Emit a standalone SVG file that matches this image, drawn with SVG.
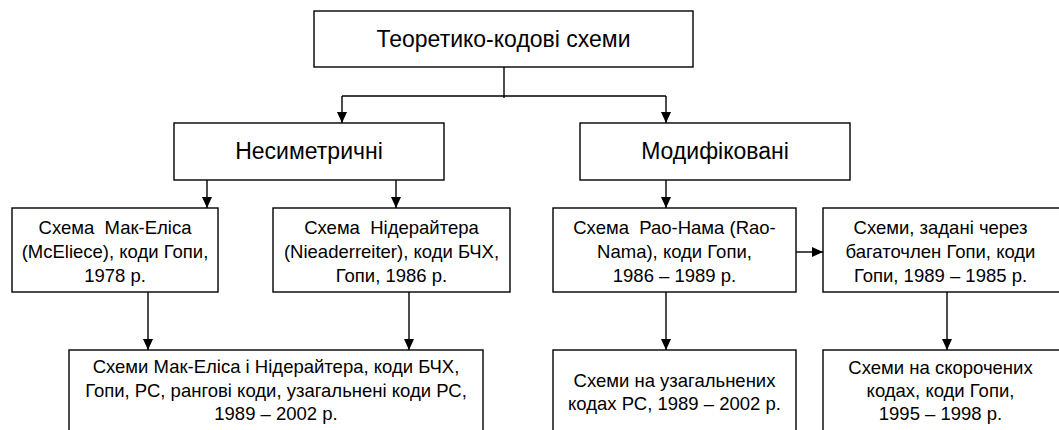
<svg xmlns="http://www.w3.org/2000/svg" width="1059" height="430" viewBox="0 0 1059 430">
  <style>
    .box { fill: #ffffff; stroke: #000000; stroke-width: 1.4; }
    .big { font-family: "Liberation Sans", Arial, sans-serif; font-size: 23px; fill: #000000; text-anchor: middle; }
    .small { font-family: "Liberation Sans", Arial, sans-serif; font-size: 18.5px; fill: #000000; text-anchor: middle; white-space: pre; }
    .link { fill: none; stroke: #000000; stroke-width: 1.4; }
    .arrow { marker-end: url(#head); }
  </style>
  <defs>
    <marker id="head" markerUnits="userSpaceOnUse" markerWidth="11" markerHeight="11" refX="11" refY="5.5" orient="auto">
      <path d="M0,0.5 L11,5.5 L0,10.5 z" fill="#000000"/>
    </marker>
  </defs>
  <rect width="1059" height="430" fill="#ffffff"/>

  <g id="connectors">
    <path class="link" d="M504,67 V98"/>
    <path class="link" d="M342,96 H666"/>
    <path class="link arrow" d="M342,96 V123"/>
    <path class="link arrow" d="M666,96 V123"/>
    <path class="link arrow" d="M207,180 V208"/>
    <path class="link arrow" d="M396,180 V208"/>
    <path class="link arrow" d="M666,180 V208"/>
    <path class="link arrow" d="M796,252 H823"/>
    <path class="link arrow" d="M148,292 V350"/>
    <path class="link arrow" d="M409,292 V350"/>
    <path class="link arrow" d="M666,292 V350"/>
    <path class="link arrow" d="M947,292 V350"/>
  </g>

  <g id="root">
    <rect class="box" x="314" y="11" width="379" height="56"/>
    <text class="big" x="503.5" y="47">Теоретико-кодові схеми</text>
  </g>

  <g id="asymmetric">
    <rect class="box" x="174" y="123" width="270" height="57"/>
    <text class="big" x="309" y="159">Несиметричні</text>
  </g>

  <g id="modified">
    <rect class="box" x="580" y="123" width="270" height="57"/>
    <text class="big" x="715" y="159">Модифіковані</text>
  </g>

  <g id="mceliece">
    <rect class="box" x="12" y="208" width="206" height="84"/>
    <text class="small" x="115" y="234">Схема  Мак-Еліса</text>
    <text class="small" x="115" y="258">(McEliece), коди Гопи,</text>
    <text class="small" x="115" y="282">1978 р.</text>
  </g>

  <g id="niederreiter">
    <rect class="box" x="273" y="208" width="237" height="84"/>
    <text class="small" x="391.5" y="234">Схема  Нідерайтера</text>
    <text class="small" x="391.5" y="258">(Nieaderreiter), коди БЧХ,</text>
    <text class="small" x="391.5" y="282">Гопи, 1986 р.</text>
  </g>

  <g id="rao-nam">
    <rect class="box" x="553" y="208" width="243" height="84"/>
    <text class="small" x="674.5" y="234">Схема  Рао-Нама (Rao-</text>
    <text class="small" x="674.5" y="258">Nama), коди Гопи,</text>
    <text class="small" x="674.5" y="282">1986 – 1989 р.</text>
  </g>

  <g id="goppa-polynomial">
    <rect class="box" x="823" y="208" width="240" height="84"/>
    <text class="small" x="940.5" y="234">Схеми, задані через</text>
    <text class="small" x="940.5" y="258">багаточлен Гопи, коди</text>
    <text class="small" x="940.5" y="282">Гопи, 1989 – 1985 р.</text>
  </g>

  <g id="combined">
    <rect class="box" x="69" y="350" width="414" height="90"/>
    <text class="small" x="276" y="373">Схеми Мак-Еліса і Нідерайтера, коди БЧХ,</text>
    <text class="small" x="276" y="397">Гопи, РС, рангові коди, узагальнені коди РС,</text>
    <text class="small" x="276" y="420">1989 – 2002 р.</text>
  </g>

  <g id="generalized-rs">
    <rect class="box" x="553" y="350" width="243" height="90"/>
    <text class="small" x="674.5" y="387">Схеми на узагальнених</text>
    <text class="small" x="674.5" y="410">кодах РС, 1989 – 2002 р.</text>
  </g>

  <g id="shortened">
    <rect class="box" x="823" y="350" width="240" height="90"/>
    <text class="small" x="940.5" y="374">Схеми на скорочених</text>
    <text class="small" x="940.5" y="397">кодах, коди Гопи,</text>
    <text class="small" x="940.5" y="420">1995 – 1998 р.</text>
  </g>
</svg>
